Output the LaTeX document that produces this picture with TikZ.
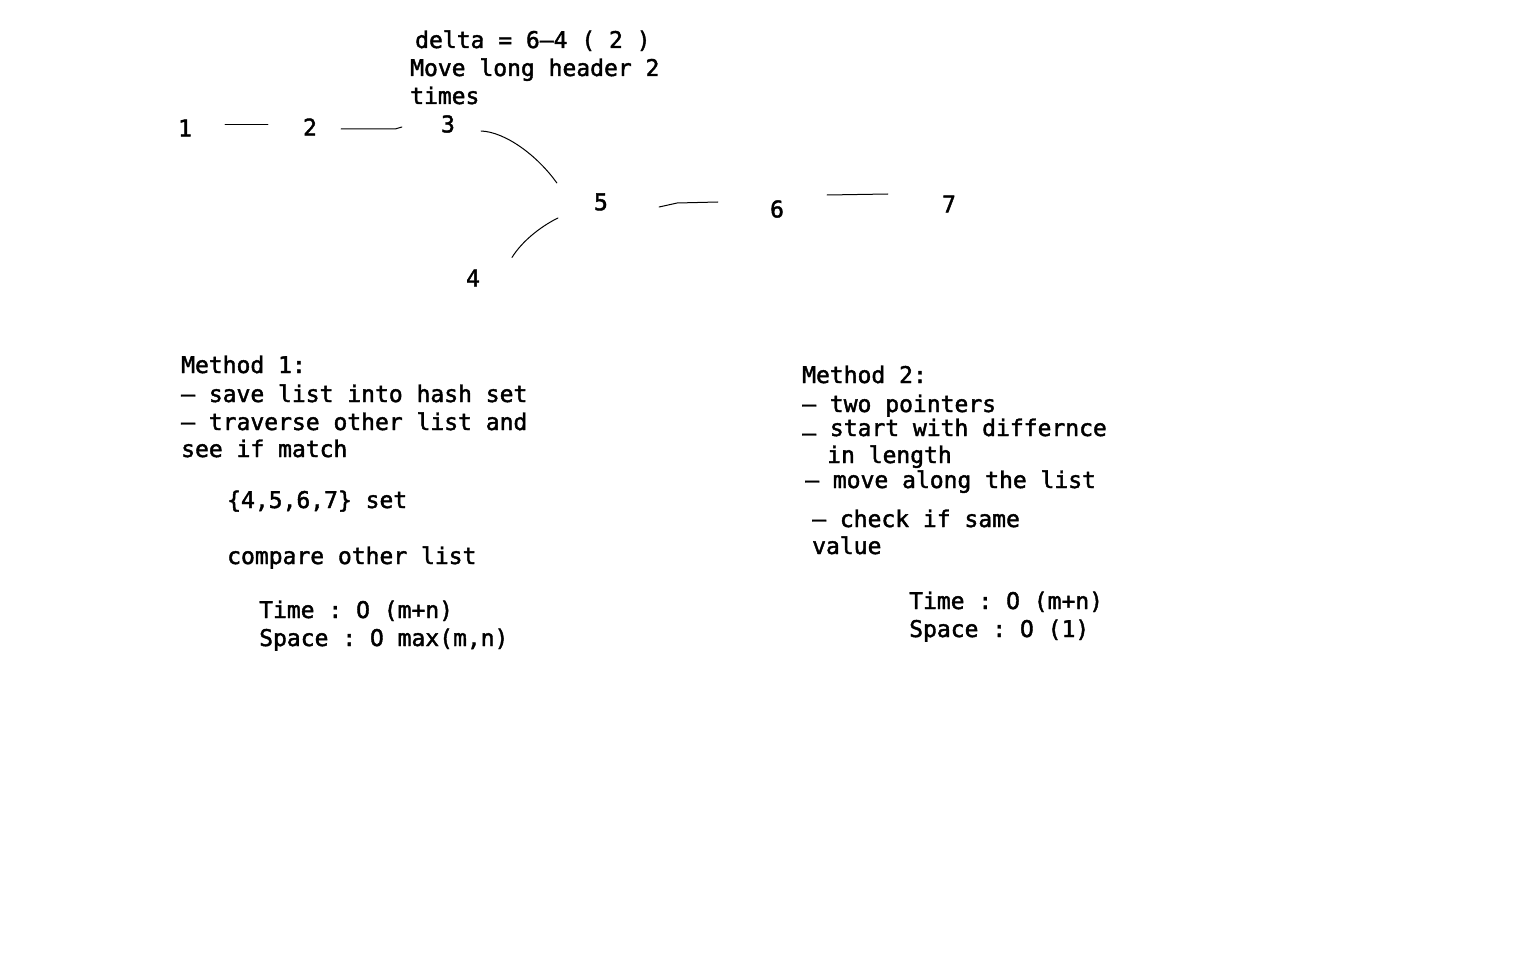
\documentclass[tikz,border=0pt]{standalone}
\usepackage{fontspec}
\setmonofont[FakeBold=1.8]{DejaVu Sans Mono}
\usetikzlibrary{positioning}

\tikzset{
    note/.style={font=\ttfamily\fontsize{23}{28}\selectfont, inner sep=0pt, anchor=base west},
    num/.style={font=\ttfamily\fontsize{23}{28}\selectfont, inner sep=0pt, anchor=center},
    link/.style={line width=1pt, line cap=round, line join=round}
}

\begin{document}
\begin{tikzpicture}[x=1pt, y=1pt]
    \fill[white] (0,0) rectangle (1536,-960);
    \useasboundingbox (0,0) rectangle (1536,-960);

    % the two lists
    \node[num] (n1) at (185,-128) {1};
    \node[num] (n2) at (310,-127) {2};
    \node[num] (n3) at (448,-124) {3};
    \node[num] (n5) at (601,-202) {5};
    \node[num] (n4) at (473,-278) {4};
    \node[num] (n6) at (777,-209) {6};
    \node[num] (n7) at (949,-204) {7};

    \draw[link] ([xshift=33pt,yshift=3pt]n1.east) -- ([xshift=-35pt,yshift=2pt]n2.west);
    \draw[link] ([xshift=24pt,yshift=-2pt]n2.east) -- ++(54,0) -- ([xshift=-39pt,yshift=-3pt]n3.west);
    \draw[link] ([xshift=26pt,yshift=-7pt]n3.east)
        .. controls +(24,-1) and +(-20,28) .. ([xshift=-37pt,yshift=19pt]n5.west);
    \draw[link] ([xshift=-36pt,yshift=-16pt]n5.west)
        .. controls +(-18,-9) and +(10,16) .. ([xshift=39pt,yshift=12pt]n4.north);
    \draw[link] ([xshift=51pt,yshift=-5pt]n5.east) -- ++(18,4) -- ([xshift=-52pt,yshift=7pt]n6.west);
    \draw[link] ([xshift=43pt,yshift=14pt]n6.east) -- ([xshift=-54pt,yshift=10pt]n7.west);

    % delta note
    \node[note] (delta) at (415,-48) {delta = 6–4 ( 2 )};
    \node[note] (move) at (410,-76) {Move long header 2};
    \node[note] (times) at (410,-104) {times};

    % method 1
    \node[note] (m1) at (181,-373) {Method 1:};
    \node[note] (m1a) at (181,-402) {– save list into hash set};
    \node[note] (m1b) at (181,-430) {– traverse other list and};
    \node[note] (m1c) at (181,-457) {see if match};
    \node[note] (m1set) at (227,-508) {\{4,5,6,7\} set};
    \node[note] (m1cmp) at (227,-564) {compare other list};
    \node[note] (m1time) at (259,-618) {Time : O (m+n)};
    \node[note] (m1space) at (259,-646) {Space : O max(m,n)};

    % method 2
    \node[note] (m2) at (802,-383) {Method 2:};
    \node[note] (m2a) at (802,-412) {– two pointers};
    \node[note] (m2b) at (802,-436) {\raisebox{-5pt}{–} start with differnce};
    \node[note] (m2c) at (827,-463) {in length};
    \node[note] (m2d) at (805,-488) {– move along the list};
    \node[note] (m2e) at (812,-527) {– check if same};
    \node[note] (m2f) at (812,-554) {value};
    \node[note] (m2time) at (909,-609) {Time : O (m+n)};
    \node[note] (m2space) at (909,-637) {Space : O (1)};
\end{tikzpicture}
\end{document}
